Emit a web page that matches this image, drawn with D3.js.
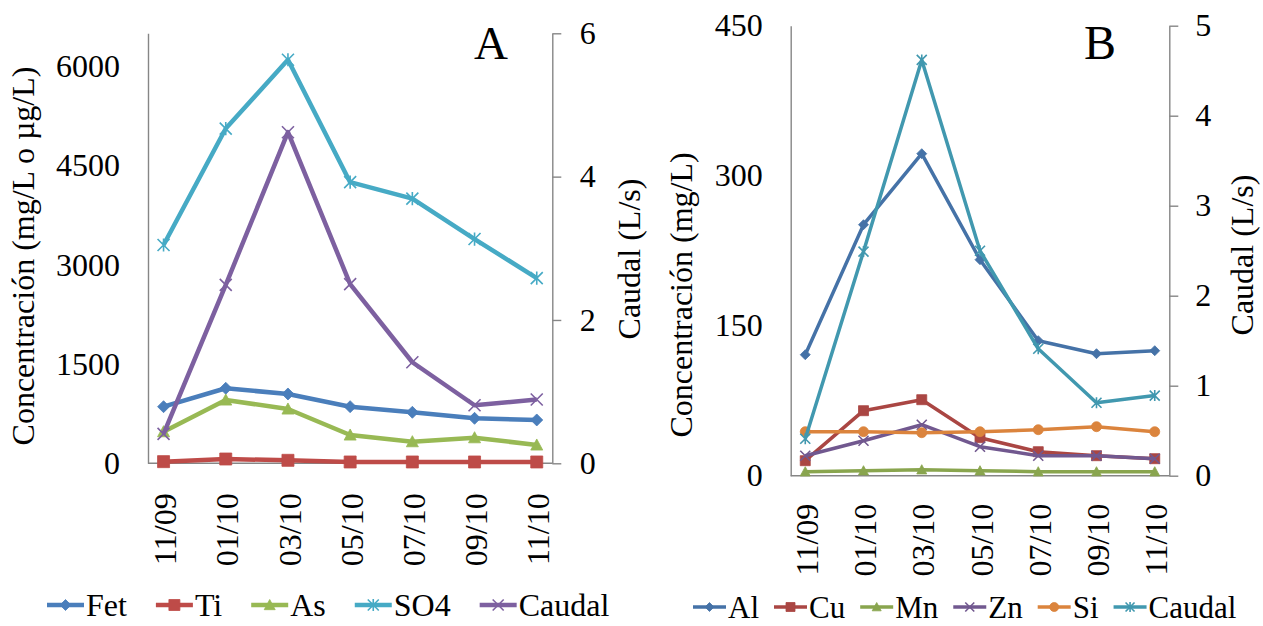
<!DOCTYPE html>
<html>
<head>
<meta charset="utf-8">
<script src="https://cdn.jsdelivr.net/npm/d3@7"></script>
<style>
    body { margin: 0; background: #fff; }
    svg text { font-family: "Liberation Serif", "Times New Roman", "DejaVu Serif", serif; fill: #000; }
    .axis path, .axis line { stroke: #868686; stroke-width: 1.4; }
    .axis text { font-size: 32px; }
</style>
</head>
<body>
<script>
// Data
const categories = ["11/09", "01/10", "03/10", "05/10", "07/10", "09/10", "11/10"];

const fetA = [856, 1134, 1048, 856, 771, 680, 655];
const tiA = [25, 65, 45, 20, 20, 20, 20];
const asA = [478, 957, 821, 428, 327, 387, 277];
const so4A = [3300, 5060, 6100, 4250, 4000, 3390, 2800];
const caudal = [0.41, 2.49, 4.62, 2.5, 1.41, 0.81, 0.89];

const alB = [121, 251, 322, 216, 135, 122, 125];
const cuB = [15, 65, 76, 38, 24, 20, 17];
const mnB = [4, 5, 6, 5, 4, 4, 4];
const znB = [20, 35, 51, 29, 20, 20, 17];
const siB = [44, 44, 43, 44, 46, 49, 44];

const leftTicksA = [0, 1500, 3000, 4500, 6000];
const rightTicksA = [0, 2, 4, 6];
const leftTicksB = [0, 150, 300, 450];
const rightTicksB = [0, 1, 2, 3, 4, 5];

const FONT = '"Liberation Serif", "Times New Roman", "DejaVu Serif", serif';

// Chart layout
const CHARTS = [
    {
        letter: "A",
        left: 148, right: 552.3, top: 33.3, bottom: 463.3,
        leftDomain: [0, 6500], rightDomain: [0, 6],
        leftTicks: leftTicksA, rightTicks: rightTicksA,
        leftTitle: "Concentración (mg/L o µg/L)", leftTitleX: 34, leftTitleY: 256,
        rightTitle: "Caudal (L/s)", rightTitleX: 640, rightTitleY: 259,
        leftPad: 28, rightPad: 18.5, labelGap: 30,
        letterX: 491, letterY: 59, letterSize: 47,
        lineWidth: 4.5, markerR: 6,
        legendX: 47, legendY: 605, legendLine: 37, legendGap: 29, legendFont: 32, legendR: 5.5,
        series: [
            { name: "Fet", values: fetA, color: "#4A7EBB", marker: "diamond", axis: "left" },
            { name: "Ti", values: tiA, color: "#BE4B48", marker: "square", axis: "left" },
            { name: "As", values: asA, color: "#98B954", marker: "triangle", axis: "left" },
            { name: "SO4", values: so4A, color: "#46AAC5", marker: "star", axis: "left" },
            { name: "Caudal", values: caudal, color: "#7D60A0", marker: "x", axis: "right" }
        ]
    },
    {
        letter: "B",
        left: 790.7, right: 1169.3, top: 25.7, bottom: 475.7,
        leftDomain: [0, 450], rightDomain: [0, 5],
        leftTicks: leftTicksB, rightTicks: rightTicksB,
        leftTitle: "Concentración (mg/L)", leftTitleX: 692, leftTitleY: 295,
        rightTitle: "Caudal (L/s)", rightTitleX: 1253, rightTitleY: 255,
        leftPad: 28, rightPad: 17, labelGap: 28,
        letterX: 1100, letterY: 59, letterSize: 48,
        lineWidth: 3.5, markerR: 5,
        legendX: 693, legendY: 607, legendLine: 33, legendGap: 15, legendFont: 31, legendR: 4.5,
        series: [
            { name: "Al", values: alB, color: "#4572A7", marker: "diamond", axis: "left" },
            { name: "Cu", values: cuB, color: "#AA4643", marker: "square", axis: "left" },
            { name: "Mn", values: mnB, color: "#89A54E", marker: "triangle", axis: "left" },
            { name: "Zn", values: znB, color: "#71588F", marker: "x", axis: "left" },
            { name: "Si", values: siB, color: "#DB843D", marker: "circle", axis: "left" },
            { name: "Caudal", values: caudal, color: "#4198AF", marker: "star", axis: "right" }
        ]
    }
];

// Excel-like marker shapes centred on 0,0
function markerPath(type, r) {
    switch (type) {
        case "diamond": return `M0,${-r}L${r},0L0,${r}L${-r},0Z`;
        case "square": return `M${-r},${-r}h${2 * r}v${2 * r}h${-2 * r}Z`;
        case "triangle": return `M0,${-r}L${r},${r * 0.85}L${-r},${r * 0.85}Z`;
        case "circle": return `M${r},0A${r},${r} 0 1,1 ${-r},0A${r},${r} 0 1,1 ${r},0Z`;
        case "x": return `M${-r},${-r}L${r},${r}M${-r},${r}L${r},${-r}`;
        case "star": return `M${-r},${-r}L${r},${r}M${-r},${r}L${r},${-r}M0,${-r * 1.1}L0,${r * 1.1}`;
    }
}

function styleMarker(sel, s) {
    const open = s.marker === "x" || s.marker === "star";
    sel.attr("fill", open ? "none" : s.color)
        .attr("stroke", s.color)
        .attr("stroke-width", open ? 1.6 : 0.8);
}

class DualAxisChart {
    constructor(svg, cfg) {
        this.svg = svg;
        this.cfg = cfg;
        this.x = d3.scalePoint().domain(categories).range([cfg.left, cfg.right]).padding(0.25);
        this.yLeft = d3.scaleLinear().domain(cfg.leftDomain).range([cfg.bottom, cfg.top]);
        this.yRight = d3.scaleLinear().domain(cfg.rightDomain).range([cfg.bottom, cfg.top]);
    }

    render() {
        this.renderAxes();
        this.renderSeries();
        this.renderTitles();
        this.renderLegend();
    }

    renderAxes() {
        const c = this.cfg;
        this.svg.append("g").attr("class", "axis")
            .attr("transform", `translate(${c.left},0)`)
            .call(d3.axisLeft(this.yLeft).tickValues(c.leftTicks).tickFormat(d3.format("d"))
                .tickSize(0).tickPadding(c.leftPad))
            .attr("font-family", FONT);

        this.svg.append("g").attr("class", "axis")
            .attr("transform", `translate(${c.right},0)`)
            .call(d3.axisRight(this.yRight).tickValues(c.rightTicks).tickFormat(d3.format("d"))
                .tickSizeInner(9).tickSizeOuter(0).tickPadding(c.rightPad))
            .attr("font-family", FONT);

        const bottom = this.svg.append("g").attr("class", "axis")
            .attr("transform", `translate(0,${c.bottom})`)
            .call(d3.axisBottom(this.x).tickSize(0))
            .attr("font-family", FONT);
        bottom.select(".domain").attr("d", `M${c.left},0H${c.right}`);
        bottom.selectAll("text")
            .attr("transform", "rotate(-90)")
            .attr("text-anchor", "end")
            .attr("x", -c.labelGap)
            .attr("y", 0)
            .attr("dy", "0.38em");
    }

    renderSeries() {
        const c = this.cfg;
        c.series.forEach(s => {
            const y = s.axis === "left" ? this.yLeft : this.yRight;
            const line = d3.line()
                .x((d, i) => this.x(categories[i]))
                .y(d => y(d));

            this.svg.append("path")
                .datum(s.values)
                .attr("d", line)
                .attr("fill", "none")
                .attr("stroke", s.color)
                .attr("stroke-width", c.lineWidth)
                .attr("stroke-linejoin", "round");

            this.svg.append("g")
                .selectAll("path")
                .data(s.values)
                .join("path")
                .attr("d", markerPath(s.marker, c.markerR))
                .attr("transform", (d, i) => `translate(${this.x(categories[i])},${y(d)})`)
                .call(styleMarker, s);
        });
    }

    renderTitles() {
        const c = this.cfg;
        this.svg.append("text")
            .attr("transform", `translate(${c.leftTitleX},${c.leftTitleY}) rotate(-90)`)
            .attr("text-anchor", "middle")
            .attr("font-size", 32)
            .text(c.leftTitle);

        this.svg.append("text")
            .attr("transform", `translate(${c.rightTitleX},${c.rightTitleY}) rotate(-90)`)
            .attr("text-anchor", "middle")
            .attr("font-size", 32)
            .text(c.rightTitle);

        this.svg.append("text")
            .attr("x", c.letterX)
            .attr("y", c.letterY)
            .attr("text-anchor", "middle")
            .attr("font-size", c.letterSize)
            .text(c.letter);
    }

    renderLegend() {
        const c = this.cfg;
        let xPos = c.legendX;
        c.series.forEach(s => {
            const item = this.svg.append("g").attr("transform", `translate(${xPos},${c.legendY})`);
            item.append("line")
                .attr("x1", 0).attr("x2", c.legendLine)
                .attr("stroke", s.color)
                .attr("stroke-width", c.lineWidth);
            item.append("path")
                .attr("d", markerPath(s.marker, c.legendR))
                .attr("transform", `translate(${c.legendLine / 2},0)`)
                .call(styleMarker, s);
            const label = item.append("text")
                .attr("x", c.legendLine + 2)
                .attr("dy", "0.34em")
                .attr("font-size", c.legendFont)
                .text(s.name);
            xPos += c.legendLine + 2 + label.node().getComputedTextLength() + c.legendGap;
        });
    }
}

document.addEventListener("DOMContentLoaded", () => {
    const svg = d3.select("body").append("svg")
        .attr("width", 1263)
        .attr("height", 626)
        .attr("viewBox", "0 0 1263 626")
        .attr("font-family", FONT);

    CHARTS.forEach(cfg => new DualAxisChart(svg, cfg).render());
});
</script>
</body>
</html>
